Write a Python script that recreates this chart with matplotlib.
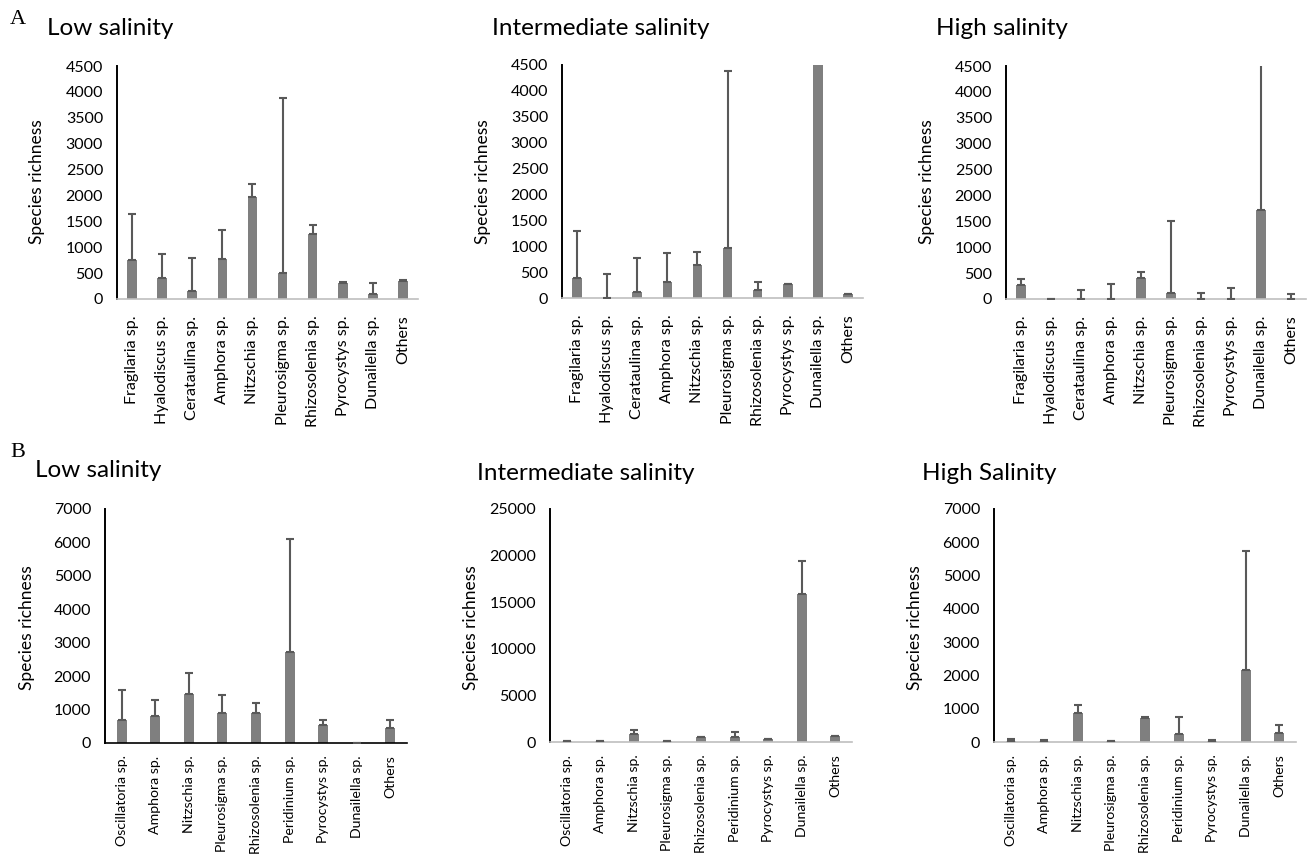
import matplotlib
matplotlib.use("Agg")
import matplotlib.pyplot as plt
import numpy as np

plt.rcParams['font.family'] = ['Lato', 'DejaVu Sans']

species_a = ["Fragilaria sp.", "Hyalodiscus sp.", "Cerataulina sp.", "Amphora sp.",
             "Nitzschia sp.", "Pleurosigma sp.", "Rhizosolenia sp.", "Pyrocystys sp.",
             "Dunailella sp.", "Others"]
species_b = ["Oscillatoria sp.", "Amphora sp.", "Nitzschia sp.", "Pleurosigma sp.",
             "Rhizosolenia sp.", "Peridinium sp.", "Pyrocystys sp.", "Dunailella sp.",
             "Others"]

# A: means and upper error
a_low = [750, 405, 160, 770, 1965, 505, 1265, 305, 90, 350]
a_low_err = [895, 455, 625, 560, 260, 3380, 165, 15, 215, 10]
a_mid = [385, 0, 110, 315, 630, 975, 145, 265, 5200, 70]
a_mid_err = [905, 460, 655, 550, 255, 3405, 155, 5, 0, 5]
a_high = [275, 0, 0, 0, 400, 115, 0, 0, 1710, 0]
a_high_err = [105, 0, 180, 290, 120, 1400, 120, 220, 3500, 95]

# B: means and upper error
b_low = [680, 820, 1460, 890, 910, 2720, 540, 0, 460]
b_low_err = [900, 460, 620, 540, 280, 3390, 160, 0, 220]
b_mid = [150, 150, 900, 120, 520, 540, 350, 15900, 600]
b_mid_err = [0, 0, 350, 0, 30, 500, 0, 3570, 50]
b_high = [20, 20, 860, 30, 710, 230, 20, 2150, 260]
b_high_err = [70, 40, 240, 0, 30, 530, 50, 3590, 250]

W, H = 1307, 857
fig = plt.figure(figsize=(W / 100, H / 100), dpi=100)

BAR = '#7f7f7f'
ERR = '#595959'


def px_axes(x0, y0, x1, y1):
    return fig.add_axes([x0 / W, 1 - y1 / H, (x1 - x0) / W, (y1 - y0) / H])


def panel(box, names, vals, errs, ymax, step, bottom_color, bw, xfs, xpad):
    ax = px_axes(*box)
    x = np.arange(len(names))
    ax.bar(x, vals, width=bw, color=BAR, zorder=2)
    ax.errorbar(x, vals, yerr=[np.zeros(len(errs)), errs], fmt='none',
                ecolor=ERR, elinewidth=1.5, capsize=2.7, capthick=1.5, zorder=3)
    ax.set_xlim(-0.5, len(names) - 0.5)
    ax.set_ylim(0, ymax)
    ax.set_yticks(np.arange(0, ymax + 1, step))
    ax.set_xticks(x)
    ax.set_xticklabels(names, rotation=90, fontsize=xfs)
    ax.tick_params(axis='y', length=0, pad=10, labelsize=11.5)
    ax.tick_params(axis='x', length=0, pad=xpad)
    for s in ['top', 'right']:
        ax.spines[s].set_visible(False)
    ax.spines['left'].set_color('black')
    ax.spines['left'].set_linewidth(1.4)
    ax.spines['bottom'].set_color(bottom_color)
    ax.spines['bottom'].set_linewidth(1.2)
    ax.patch.set_alpha(0)
    return ax


panel((117, 66, 418, 299), species_a, a_low, a_low_err, 4500, 500, '#bfbfbf', 0.32, 11.5, 12)
panel((562, 65, 863, 298), species_a, a_mid, a_mid_err, 4500, 500, '#bfbfbf', 0.32, 11.5, 12)
panel((1006, 66, 1306, 299), species_a, a_high, a_high_err, 4500, 500, '#bfbfbf', 0.32, 11.5, 12)
panel((105, 509, 407, 743), species_b, b_low, b_low_err, 7000, 1000, 'black', 0.3, 10.2, 9)
panel((550, 509, 852, 742), species_b, b_mid, b_mid_err, 25000, 5000, '#bfbfbf', 0.3, 10.2, 9)
panel((994, 509, 1296, 742), species_b, b_high, b_high_err, 7000, 1000, '#bfbfbf', 0.3, 10.2, 9)


def ftext(x, y, s, **kw):
    fig.text(x / W, 1 - y / H, s, **kw)


# panel letters
ftext(10, 19, "A", fontsize=16, family=['Liberation Serif'], va='center')
ftext(10, 452, "B", fontsize=16, family=['Liberation Serif'], va='center')

# titles
ftext(47, 35, "Low salinity", fontsize=17.5, va='baseline')
ftext(492, 35, "Intermediate salinity", fontsize=17.5, va='baseline')
ftext(936, 35, "High salinity", fontsize=17.5, va='baseline')
ftext(35, 477, "Low salinity", fontsize=17.5, va='baseline')
ftext(477, 480, "Intermediate salinity", fontsize=17.5, va='baseline')
ftext(922, 480, "High Salinity", fontsize=17.5, va='baseline')

# y labels
for xp, yp in [(37, 182), (483, 182), (927, 182), (27, 628), (471, 628), (915, 628)]:
    ftext(xp, yp, "Species richness", fontsize=12.5, rotation=90, ha='center', va='center')

fig.savefig("out.png", dpi=100)
